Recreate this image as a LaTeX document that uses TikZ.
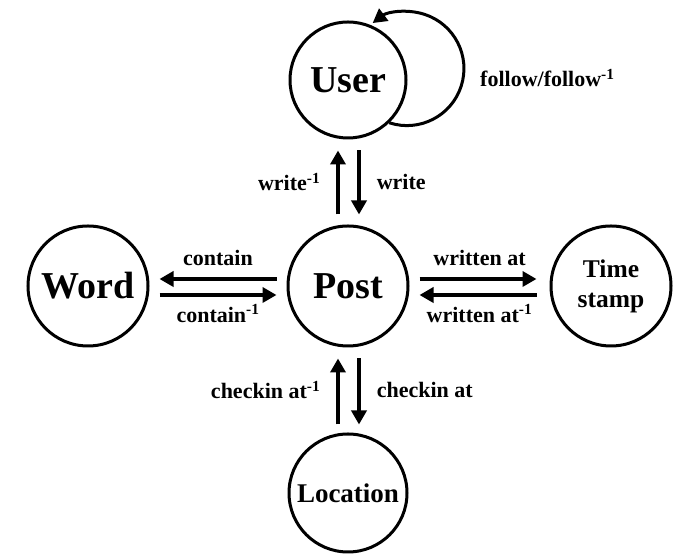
\documentclass[tikz,border=0pt]{standalone}
\usepackage{fontspec}
\setmainfont{Liberation Serif}
\usetikzlibrary{arrows.meta}

\begin{document}
\begin{tikzpicture}[x=1pt,y=1pt,
  entity/.style={circle, draw, line width=3pt, fill=white, inner sep=0pt,
    align=center, font=\fontsize{38}{44}\selectfont\bfseries},
  rel/.style={line width=3.5pt, -{Triangle[length=14pt,width=15pt]}},
  selfrel/.style={line width=3pt, -{Triangle[length=14pt,width=15pt]}},
  lbl/.style={inner sep=0pt, font=\fontsize{22}{26}\selectfont\bfseries}]
\useasboundingbox (0,0) rectangle (678,556);

% entities
\node[entity, minimum size=116pt] (user) at (348,476) {User};
\node[entity, minimum size=120pt] (post) at (348,270) {Post};
\node[entity, minimum size=120pt] (word) at (88,270) {Word};
\node[entity, minimum size=120pt, font=\fontsize{25.5}{30}\selectfont\bfseries]
  (time) at (611,270) {Time\\stamp};
\node[entity, minimum size=118pt, font=\fontsize{27}{32}\selectfont\bfseries]
  (loc) at (348,63) {Location};

% self relation on User
\draw[selfrel] (user.-46) arc[start angle=-108, end angle=127, radius=57];
\node[lbl, anchor=west] (follow) at (480,478) {follow/follow\textsuperscript{-1}};

% Post -- User
\draw[rel, shorten <=10pt, shorten >=11pt]
  ([xshift=-10pt]post.north) -- ([xshift=-10pt]user.south)
  node[lbl, midway, left=16pt] {write\textsuperscript{-1}};
\draw[rel, shorten <=11pt, shorten >=10pt]
  ([xshift=11pt]user.south) -- ([xshift=11pt]post.north)
  node[lbl, midway, right=16pt] {write};

% Post -- Word
\draw[rel, shorten <=10pt, shorten >=10pt]
  ([yshift=7pt]post.west) -- ([yshift=7pt]word.east)
  node[lbl, midway, above=12pt] {contain};
\draw[rel, shorten <=10pt, shorten >=10pt]
  ([yshift=-9pt]word.east) -- ([yshift=-9pt]post.west)
  node[lbl, midway, below=8pt] {contain\textsuperscript{-1}};

% Post -- Time stamp
\draw[rel, shorten <=10pt, shorten >=13pt]
  ([yshift=7pt]post.east) -- ([yshift=7pt]time.west)
  node[lbl, midway, above=12pt] {written at};
\draw[rel, shorten <=13pt, shorten >=10pt]
  ([yshift=-9pt]time.west) -- ([yshift=-9pt]post.east)
  node[lbl, midway, below=8pt] {written at\textsuperscript{-1}};

% Post -- Location
\draw[rel, shorten <=8pt, shorten >=11pt]
  ([xshift=-10pt]loc.north) -- ([xshift=-10pt]post.south)
  node[lbl, midway, left=16pt] {checkin at\textsuperscript{-1}};
\draw[rel, shorten <=11pt, shorten >=8pt]
  ([xshift=11pt]post.south) -- ([xshift=11pt]loc.north)
  node[lbl, midway, right=16pt] {checkin at};
\end{tikzpicture}
\end{document}
